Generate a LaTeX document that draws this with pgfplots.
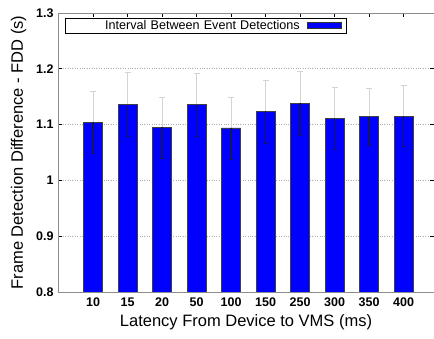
\documentclass[border=0pt]{standalone}
\usepackage{pgfplots}
\usepackage{pgfplotstable}
\pgfplotsset{compat=1.18}
\usepackage{fontspec}
\setmainfont{Liberation Sans}
\definecolor{axgray}{RGB}{140,140,140}
\definecolor{errlight}{RGB}{212,212,212}
\definecolor{errdark}{RGB}{20,20,90}
\pgfplotstableread{
x y ep em
0 1.104 0.055 0.055
1 1.136 0.058 0.057
2 1.095 0.054 0.055
3 1.136 0.056 0.057
4 1.094 0.055 0.056
5 1.124 0.055 0.057
6 1.138 0.057 0.058
7 1.111 0.055 0.056
8 1.114 0.051 0.051
9 1.115 0.055 0.055
}\datatab
\begin{document}
\begin{tikzpicture}
\begin{axis}[
  at={(58pt,47pt)}, anchor=south west,
  scale only axis, width=376pt, height=279pt,
  xmin=-1.02, xmax=9.88, ymin=0.8, ymax=1.3,
  xtick={0,...,9},
  xticklabels={10,15,20,50,100,150,250,300,350,400},
  ytick={0.8,0.9,1.0,1.1,1.2,1.3},
  yticklabels={0.8,0.9,1,1.1,1.2,1.3},
  xtick pos=upper, xticklabel pos=lower,
  tick align=inside, major tick length=4pt,
  tick style={black, line width=0.7pt},
  axis line style={axgray, line width=0.9pt},
  ymajorgrids, grid style={axgray!70, dotted, line width=0.7pt},
  ticklabel style={font=\fontsize{12.5}{14}\selectfont\bfseries},
  xticklabel style={yshift=-2pt},
  yticklabel style={xshift=-1pt},
  xlabel={Latency From Device to VMS (ms)},
  ylabel={Frame Detection Difference - FDD (s)},
  label style={font=\fontsize{16.5}{19}\selectfont},
  xlabel style={yshift=-1pt},
  ylabel style={yshift=3pt},
  legend plot pos=right,
  legend style={at={(rel axis cs:0.0186,0.982)}, anchor=north west,
    draw=black, line width=0.6pt, inner xsep=4pt, inner ysep=0.5pt,
    column sep=6pt,
    font=\fontsize{12.6}{14}\selectfont,
    nodes={inner sep=1.5pt, text width=229pt, align=right}},
  legend image code/.code={\draw[fill=blue, draw=black!80, line width=0.6pt] (0pt,-3pt) rectangle (34pt,3pt);},
]
\addplot[draw=none, forget plot, error bars/.cd, y dir=plus, y explicit,
  error bar style={draw=errlight, line width=1.2pt, solid},
  error mark options={draw=errlight, rotate=90, mark size=3pt, line width=1pt}]
  table[x=x, y=y, y error plus=ep] {\datatab};
\addplot[ybar, bar shift=0pt, bar width=19pt, fill=blue, draw=black!75, line width=0.8pt]
  table[x=x, y=y] {\datatab};
\addlegendentry{Interval Between Event Detections}
\addplot[draw=none, forget plot, error bars/.cd, y dir=minus, y explicit,
  error bar style={draw=errdark, line width=1.5pt, solid},
  error mark options={draw=errdark, rotate=90, mark size=2pt, line width=1pt}]
  table[x=x, y=y, y error minus=em] {\datatab};
\end{axis}
\pgfresetboundingbox
\useasboundingbox (0,0) rectangle (434pt,339pt);
\end{tikzpicture}
\end{document}
